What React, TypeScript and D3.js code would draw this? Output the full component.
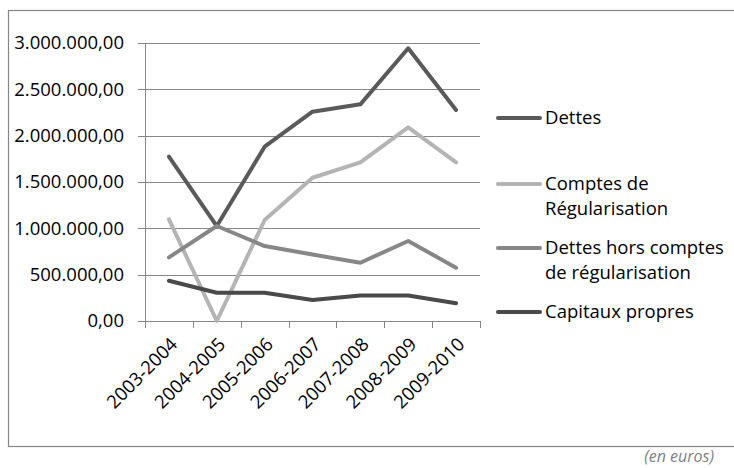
import React from "react";
import * as d3 from "d3";

const categories = ["2003-2004", "2004-2005", "2005-2006", "2006-2007", "2007-2008", "2008-2009", "2009-2010"];
const dettes = [1773000, 1025000, 1881000, 2259000, 2338000, 2943000, 2277000];
const comptesRegul = [1097000, 0, 1090000, 1546000, 1712000, 2090000, 1712000];
const dettesHors = [687000, 1025000, 809000, 717000, 629000, 863000, 575000];
const capitaux = [435000, 305000, 305000, 227000, 275000, 275000, 191000];
const yTicks = [0, 500000, 1000000, 1500000, 2000000, 2500000, 3000000];

const seriesNames = [["Dettes"], ["Comptes de", "Régularisation"], ["Dettes hors comptes", "de régularisation"], ["Capitaux propres"]];
const seriesValues = [dettes, comptesRegul, dettesHors, capitaux];
const seriesColors = ["#5a5a5a", "#b4b4b4", "#878787", "#4a4a4a"];

const W = 734, H = 468;
const font = "'Open Sans', sans-serif";
const fs = 18.5;

function fmt(v: number): string {
  const s = Math.round(v).toString().replace(/\B(?=(\d{3})+(?!\d))/g, ".");
  return s + ",00";
}

export default function App() {
  const x = d3.scaleBand<string>().domain(categories).range([145, 480]);
  const y = d3.scaleLinear().domain([0, 3000000]).range([321, 43]);
  const line = d3.line<number>().x((_, i) => (x(categories[i]) as number) + x.bandwidth() / 2).y(d => y(d));
  const legendY = [118, 184, 248, 312];
  const lineH = 25;
  return (
    <div style={{ position: "fixed", left: 0, top: 0, width: W, height: H, background: "#fff" }}>
      <svg width={W} height={H} style={{ display: "block" }}>
        <rect x={8.5} y={10.5} width={740} height={436} fill="#fff" stroke="#868686" strokeWidth={1.2} />
        {yTicks.map(t => (
          <g key={t}>
            <line x1={138} x2={480} y1={Math.round(y(t)) + 0.5} y2={Math.round(y(t)) + 0.5} stroke="#868686" strokeWidth={1} />
            <text x={124} y={y(t)} dy="0.35em" textAnchor="end" fontFamily={font} fontSize={fs} fill="#000">{fmt(t)}</text>
          </g>
        ))}
        <line x1={145.5} x2={145.5} y1={43} y2={328} stroke="#868686" strokeWidth={1} />
        {categories.concat(["end"]).map((c, i) => {
          const xx = 145 + i * x.bandwidth();
          return <line key={c} x1={Math.round(xx) + 0.5} x2={Math.round(xx) + 0.5} y1={321} y2={328} stroke="#868686" strokeWidth={1} />;
        })}
        {categories.map(c => {
          const cx = (x(c) as number) + x.bandwidth() / 2;
          return (
            <text key={c} transform={`translate(${cx + 5},${341}) rotate(-45)`} textAnchor="end" dy="0.35em" fontFamily={font} fontSize={18.5} fill="#000">{c}</text>
          );
        })}
        {seriesValues.map((vals, i) => (
          <path key={i} d={line(vals) as string} fill="none" stroke={seriesColors[i]} strokeWidth={4} strokeLinejoin="round" strokeLinecap="round" />
        ))}
        {seriesNames.map((names, i) => (
          <g key={i}>
            <line x1={498} x2={540} y1={legendY[i]} y2={legendY[i]} stroke={seriesColors[i]} strokeWidth={4} strokeLinecap="round" />
            {names.map((n, j) => (
              <text key={j} x={545} y={legendY[i] + j * lineH} dy="0.35em" fontFamily={font} fontSize={fs} fill="#000">{n}</text>
            ))}
          </g>
        ))}
        <text x={714} y={456} dy="0.35em" textAnchor="end" fontFamily={font} fontSize={16} fontStyle="italic" fill="#7f7f7f">(en euros)</text>
      </svg>
    </div>
  );
}
